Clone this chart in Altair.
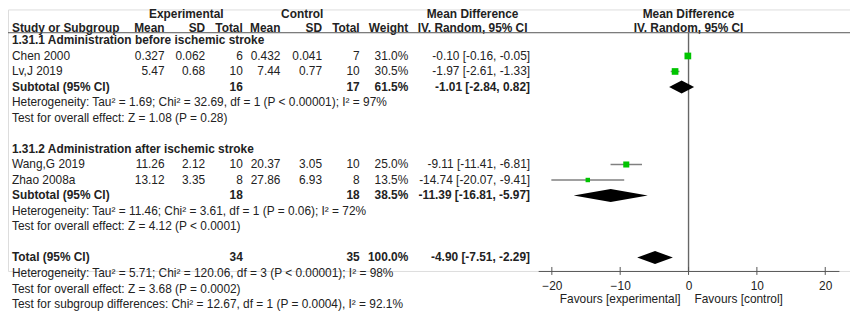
import altair as alt
import pandas as pd

# ---------------- data ----------------
studies = ["Chen 2000", "Lv,J 2019", "Wang,G 2019", "Zhao 2008a"]
study_rows = [3, 4, 10, 11]
exp_mean = ["0.327", "5.47", "11.26", "13.12"]
exp_sd = ["0.062", "0.68", "2.12", "3.35"]
exp_total = ["6", "10", "10", "8"]
ctl_mean = ["0.432", "7.44", "20.37", "27.86"]
ctl_sd = ["0.041", "0.77", "3.05", "6.93"]
ctl_total = ["7", "10", "10", "8"]
weight = [31.0, 30.5, 25.0, 13.5]
md = [-0.10, -1.97, -9.11, -14.74]
md_lo = [-0.16, -2.61, -11.41, -20.07]
md_hi = [-0.05, -1.33, -6.81, -9.41]

pooled_labels = ["Subtotal (95% CI)", "Subtotal (95% CI)", "Total (95% CI)"]
pooled_rows = [5, 12, 16]
pooled_exp_total = ["16", "18", "34"]
pooled_ctl_total = ["17", "18", "35"]
pooled_weight = [61.5, 38.5, 100.0]
pooled_md = [-1.01, -11.39, -4.90]
pooled_lo = [-2.84, -16.81, -7.51]
pooled_hi = [0.82, -5.97, -2.29]

group_titles = ["1.31.1 Administration before ischemic stroke",
                "1.31.2 Administration after ischemic stroke"]
group_rows = [2, 9]

notes = [
    "Heterogeneity: Tau\u00b2 = 1.69; Chi\u00b2 = 32.69, df = 1 (P < 0.00001); I\u00b2 = 97%",
    "Test for overall effect: Z = 1.08 (P = 0.28)",
    "Heterogeneity: Tau\u00b2 = 11.46; Chi\u00b2 = 3.61, df = 1 (P = 0.06); I\u00b2 = 72%",
    "Test for overall effect: Z = 4.12 (P < 0.0001)",
    "Heterogeneity: Tau\u00b2 = 5.71; Chi\u00b2 = 120.06, df = 3 (P < 0.00001); I\u00b2 = 98%",
    "Test for overall effect: Z = 3.68 (P = 0.0002)",
    "Test for subgroup differences: Chi\u00b2 = 12.67, df = 1 (P = 0.0004), I\u00b2 = 92.1%",
]
note_rows = [6, 7, 13, 14, 17, 18, 19]

column_headers = ["Study or Subgroup", "Mean", "SD", "Total", "Mean", "SD", "Total", "Weight",
                  "IV. Random, 95% CI"]
group_headers = ["Experimental", "Control", "Mean Difference"]
plot_headers = ["Mean Difference", "IV. Random, 95% CI"]
axis_ticks = [-20, -10, 0, 10, 20]
favour_labels = ["Favours [experimental]", "Favours [control]"]

# ---------------- tables ----------------
def ci_text(m, l, h):
    return f"{m:.2f} [{l:.2f}, {h:.2f}]"

study_df = pd.DataFrame({
    "row": study_rows, "study": studies,
    "exp_mean": exp_mean, "exp_sd": exp_sd, "exp_total": exp_total,
    "ctl_mean": ctl_mean, "ctl_sd": ctl_sd, "ctl_total": ctl_total,
    "weight": weight, "md": md, "lo": md_lo, "hi": md_hi,
})
study_df["weight_txt"] = [f"{w:.1f}%" for w in weight]
study_df["ci_txt"] = [ci_text(m, l, h) for m, l, h in zip(md, md_lo, md_hi)]

pooled_df = pd.DataFrame({
    "row": pooled_rows, "study": pooled_labels,
    "exp_total": pooled_exp_total, "ctl_total": pooled_ctl_total,
})
pooled_df["weight_txt"] = [f"{w:.1f}%" for w in pooled_weight]
pooled_df["ci_txt"] = [ci_text(m, l, h) for m, l, h in zip(pooled_md, pooled_lo, pooled_hi)]

group_df = pd.DataFrame({"row": group_rows, "study": group_titles})
notes_df = pd.DataFrame({"row": note_rows, "study": notes})

half = 0.42
drows = []
for i, (r, m, l, h) in enumerate(zip(pooled_rows, pooled_md, pooled_lo, pooled_hi)):
    drows.append({"id": i, "x": l, "y1": r, "y2": r})
    drows.append({"id": i, "x": m, "y1": r - half, "y2": r + half})
    drows.append({"id": i, "x": h, "y1": r, "y2": r})
diamond_df = pd.DataFrame(drows)

ticks_df = pd.DataFrame({"t": axis_ticks})

# ---------------- styling ----------------
FONT = "Liberation Sans"
FS = 12
TXT = "#222222"
W, H = 850, 264
LINE_Y = 23.5
HDR_DY = 3

xscale = alt.Scale(domain=[-22, 22], range=[535.2, 838.8], nice=False, zero=False)
yscale = alt.Scale(domain=[0, 19], range=[0, 297.4], nice=False, zero=False)
xaxis = alt.Axis(values=axis_ticks, title=None, grid=False, ticks=False, tickSize=0,
                 labelPadding=10, domainColor="#555555", domainWidth=1,
                 labelFontSize=12, labelColor=TXT, labelFont=FONT,
                 labelFlush=False, labelOverlap=False, format="d")
Y = alt.Y("row:Q", scale=yscale, axis=None)


def tlayer(df, field, x, align, bold=False, baseline="middle", dy=0):
    return alt.Chart(df).mark_text(
        align=align, baseline=baseline, font=FONT, fontSize=FS, color=TXT,
        fontWeight="bold" if bold else "normal", dy=dy,
    ).encode(x=alt.value(x), y=Y, text=f"{field}:N")


layers = []

# header rows
hdr0 = pd.DataFrame({"row": [0, 0, 0], "label": group_headers})
for lab, xx in zip(group_headers, [180, 297, 469]):
    layers.append(tlayer(hdr0[hdr0.label == lab], "label", xx, "center", True, baseline="top"))

hdr1 = pd.DataFrame({"row": [1] * len(column_headers), "label": column_headers,
                     "k": list(range(len(column_headers)))})
hdr_pos = [(4, "left"), (158, "right"), (199, "right"), (237, "right"), (275, "right"),
           (317, "right"), (355, "right"), (404, "right"), (469, "center")]
for k, (xx, al) in enumerate(hdr_pos):
    layers.append(tlayer(hdr1[hdr1.k == k], "label", xx, al, True, dy=HDR_DY))

# header line
layers.append(alt.Chart(pd.DataFrame({"a": [0]})).mark_rule(color="#555555", strokeWidth=1).encode(
    x=alt.value(0), x2=alt.value(W), y=alt.value(LINE_Y)))

# plot headers
ph = pd.DataFrame({"row": [0, 1], "label": plot_headers, "zero": [0, 0]})
layers.append(alt.Chart(ph[ph.row == 0]).mark_text(
    align="center", baseline="top", font=FONT, fontSize=FS, fontWeight="bold", color=TXT).encode(
    x=alt.X("zero:Q", scale=xscale, axis=xaxis), y=Y, text="label:N"))
layers.append(alt.Chart(ph[ph.row == 1]).mark_text(
    align="center", baseline="middle", font=FONT, fontSize=FS, fontWeight="bold", color=TXT,
    dy=HDR_DY).encode(
    x=alt.X("zero:Q", scale=xscale, axis=xaxis), y=Y, text="label:N"))

# group titles, notes
layers.append(tlayer(group_df, "study", 4, "left", True))
layers.append(tlayer(notes_df, "study", 4, "left", False))

# study rows
cols = [("study", 4, "left"), ("exp_mean", 158, "right"), ("exp_sd", 199, "right"),
        ("exp_total", 237, "right"), ("ctl_mean", 275, "right"), ("ctl_sd", 317, "right"),
        ("ctl_total", 355, "right"), ("weight_txt", 404, "right"), ("ci_txt", 527, "right")]
for f, xx, al in cols:
    layers.append(tlayer(study_df, f, xx, al, False))

# pooled rows
pcols = [("study", 4, "left"), ("exp_total", 237, "right"), ("ctl_total", 355, "right"),
         ("weight_txt", 404, "right"), ("ci_txt", 527, "right")]
for f, xx, al in pcols:
    layers.append(tlayer(pooled_df, f, xx, al, True))

# zero line
layers.append(alt.Chart(pd.DataFrame({"z": [0]})).mark_rule(color="#666666", strokeWidth=1.4).encode(
    x=alt.X("z:Q", scale=xscale, axis=xaxis), y=alt.value(LINE_Y), y2=alt.value(H)))

# tick marks crossing axis
layers.append(alt.Chart(ticks_df).mark_rule(color="#555555", strokeWidth=1).encode(
    x=alt.X("t:Q", scale=xscale, axis=xaxis), y=alt.value(H - 4), y2=alt.value(H + 4)))

# CI lines
layers.append(alt.Chart(study_df).mark_rule(color="#808080", strokeWidth=1.5).encode(
    x=alt.X("lo:Q", scale=xscale, axis=xaxis), x2="hi:Q", y=Y))

# squares
layers.append(alt.Chart(study_df).mark_square(color="#00c400", opacity=1).encode(
    x=alt.X("md:Q", scale=xscale, axis=xaxis), y=Y,
    size=alt.Size("weight:Q", scale=alt.Scale(domain=[0, 31], range=[0, 46]), legend=None)))

# diamonds
layers.append(alt.Chart(diamond_df).mark_area(color="#000000", opacity=1).encode(
    x=alt.X("x:Q", scale=xscale, axis=xaxis),
    y=alt.Y("y1:Q", scale=yscale, axis=None), y2="y2:Q", detail="id:N"))

# favours labels
fav = pd.DataFrame({"zero": [0], "label": [favour_labels[0]]})
fav2 = pd.DataFrame({"zero": [0], "label": [favour_labels[1]]})
layers.append(alt.Chart(fav).mark_text(align="right", baseline="middle", font=FONT, fontSize=12,
                                       color=TXT, dx=-8).encode(
    x=alt.X("zero:Q", scale=xscale, axis=xaxis), y=alt.value(292), text="label:N"))
layers.append(alt.Chart(fav2).mark_text(align="left", baseline="middle", font=FONT, fontSize=12,
                                        color=TXT, dx=6).encode(
    x=alt.X("zero:Q", scale=xscale, axis=xaxis), y=alt.value(292), text="label:N"))

chart = alt.layer(*layers).properties(
    width=W, height=H,
    autosize=alt.AutoSizeParams(type="none"),
    padding={"left": 0, "top": 0, "right": 0, "bottom": 43},
).configure_view(stroke=None).configure(background="white")

chart.save("out.html", embed_options={"renderer": "svg", "actions": False})
